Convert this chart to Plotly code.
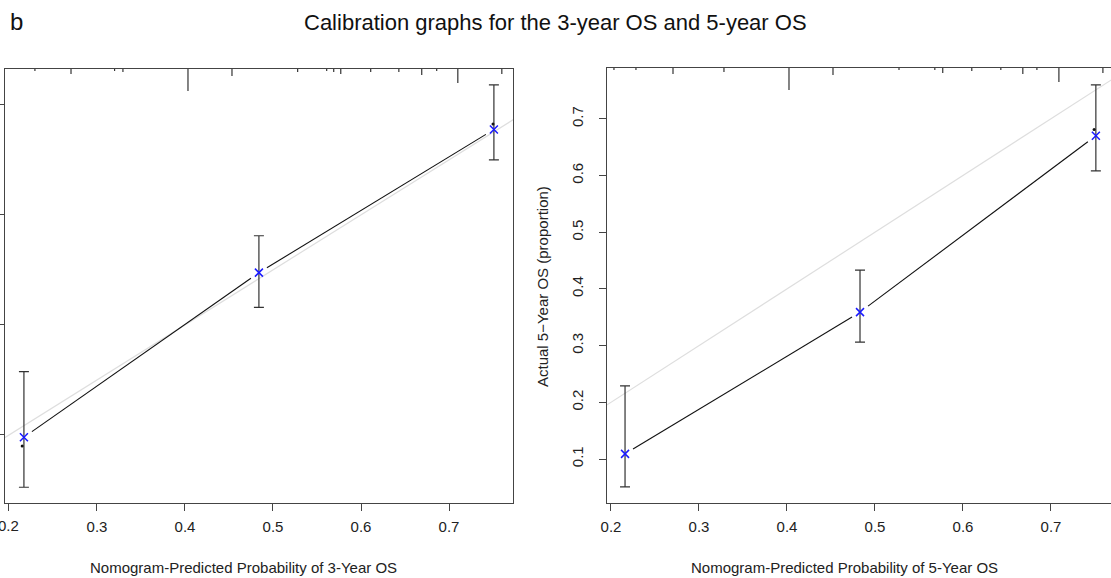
import plotly.graph_objects as go

# ---------------- data ----------------
pred3 = [0.217, 0.484, 0.751]
obs3 = [0.196, 0.495, 0.755]
obs3_hi = [0.315, 0.562, 0.836]
obs3_lo = [0.105, 0.432, 0.700]
app3_x = [0.215, 0.750]
app3_y = [0.180, 0.765]

pred5 = [0.216, 0.483, 0.751]
obs5 = [0.109, 0.359, 0.670]
obs5_hi = [0.229, 0.433, 0.760]
obs5_lo = [0.051, 0.306, 0.608]
app5_x = [0.749]
app5_y = [0.681]

rug3_x = [0.2295, 0.2705, 0.320, 0.3295, 0.4034, 0.4534, 0.528, 0.561, 0.569, 0.577,
          0.611, 0.643, 0.669, 0.686, 0.710, 0.760]
rug3_freq = [1, 2.5, 1, 1.5, 11, 3.5, 1.5, 1, 1.5, 2.5, 1.5, 1.5, 3, 1, 7, 2.5]
rug5_x = [0.2034, 0.2284, 0.2705, 0.3284, 0.4023, 0.4523, 0.5273, 0.568, 0.577, 0.610,
          0.643, 0.668, 0.684, 0.709, 0.759]
rug5_freq = [1, 1, 3, 2, 11, 3.5, 1, 1, 2.5, 1.5, 1, 3, 1, 7, 2.5]

x_ticks = [0.2, 0.3, 0.4, 0.5, 0.6, 0.7]
y3_ticks = [0.2, 0.4, 0.6, 0.8]
y5_ticks = [0.1, 0.2, 0.3, 0.4, 0.5, 0.6, 0.7]

title = "Calibration graphs for the 3-year OS and 5-year OS"
panel_label = "b"
xlab3 = "Nomogram-Predicted Probability of 3-Year OS"
xlab5 = "Nomogram-Predicted Probability of 5-Year OS"
ylab5 = "Actual 5\u2212Year OS (proportion)"

# ---------------- layout constants ----------------
W, H = 1111, 578
FONT = "Liberation Sans, Arial, sans-serif"
AX = "#444444"
GAP = 0.034
RUG_PX = 2.0

fig = go.Figure()


def gapped_segments(xs, ys, f):
    sx, sy = [], []
    for i in range(len(xs) - 1):
        dx, dy = xs[i + 1] - xs[i], ys[i + 1] - ys[i]
        sx += [xs[i] + f * dx, xs[i + 1] - f * dx, None]
        sy += [ys[i] + f * dy, ys[i + 1] - f * dy, None]
    return sx, sy


def add_panel(xa, ya, pred, obs, hi, lo, ax_, ay_):
    fig.add_trace(go.Scatter(x=[0, 1], y=[0, 1], mode="lines",
                             line=dict(color="#dedede", width=1.2),
                             xaxis=xa, yaxis=ya, hoverinfo="skip"))
    sx, sy = gapped_segments(pred, obs, GAP)
    fig.add_trace(go.Scatter(x=sx, y=sy, mode="lines",
                             line=dict(color="#111111", width=1.1),
                             xaxis=xa, yaxis=ya, connectgaps=False))
    fig.add_trace(go.Scatter(
        x=pred, y=obs, mode="markers", marker=dict(size=0.1, color="rgba(0,0,0,0)"),
        error_y=dict(type="data", symmetric=False,
                     array=[h - o for h, o in zip(hi, obs)],
                     arrayminus=[o - l for o, l in zip(obs, lo)],
                     color="#333333", thickness=1.2, width=5),
        xaxis=xa, yaxis=ya))
    fig.add_trace(go.Scatter(x=ax_, y=ay_, mode="markers",
                             marker=dict(size=3, color="#111111"),
                             xaxis=xa, yaxis=ya))
    fig.add_trace(go.Scatter(x=pred, y=obs, mode="markers",
                             marker=dict(symbol="x-thin", size=8,
                                         line=dict(color="#1a1aff", width=1.5)),
                             xaxis=xa, yaxis=ya))


add_panel("x", "y", pred3, obs3, obs3_hi, obs3_lo, app3_x, app3_y)
add_panel("x2", "y2", pred5, obs5, obs5_hi, obs5_lo, app5_x, app5_y)

for xv, fq in zip(rug3_x, rug3_freq):
    fig.add_shape(type="line", xref="x", yref="y domain", x0=xv, x1=xv,
                  y0=1, y1=1 - fq * RUG_PX / (503 - 69), line=dict(color="#333333", width=1.2))
for xv, fq in zip(rug5_x, rug5_freq):
    fig.add_shape(type="line", xref="x2", yref="y2 domain", x0=xv, x1=xv,
                  y0=1, y1=1 - fq * RUG_PX / (503 - 68), line=dict(color="#333333", width=1.2))

axis_common = dict(showgrid=False, zeroline=False, showline=True, linecolor=AX,
                   linewidth=1, ticks="outside", ticklen=7, tickcolor=AX, automargin=False,
                   tickfont=dict(family=FONT, size=15, color="#222222"))

fig.update_layout(
    width=W, height=H, margin=dict(l=0, r=0, t=0, b=0, autoexpand=False),
    plot_bgcolor="white", paper_bgcolor="white", showlegend=False,
    font=dict(family=FONT, color="#222222"),
    xaxis=dict(domain=[5 / W, 513 / W], range=[0.1955, 0.7727], tickvals=x_ticks,
               ticktext=[str(v) for v in x_ticks], mirror=True, anchor="y",
               ticklabelstandoff=3, **axis_common),
    yaxis=dict(domain=[(H - 503) / H, (H - 69) / H], range=[0.0764, 0.865],
               tickvals=y3_ticks, ticktext=["" for _ in y3_ticks], mirror=True,
               anchor="x", **axis_common),
    xaxis2=dict(domain=[607 / W, 1.0], range=[0.1955, 0.7682], tickvals=x_ticks,
                ticktext=[str(v) for v in x_ticks], mirror=True, anchor="y2",
                ticklabelstandoff=3, **axis_common),
    yaxis2=dict(domain=[(H - 503) / H, (H - 68) / H], range=[0.0224, 0.7896],
                tickvals=y5_ticks, ticktext=[str(v) for v in y5_ticks], tickangle=-90,
                mirror=False, anchor="x2", ticklabelstandoff=10, **axis_common),
)

# first tick label of the left panel, partially cut by the page edge (plotly hides it)
fig.add_annotation(text=str(x_ticks[0]), x=x_ticks[0], xref="x", y=1 - 525 / H, yref="paper",
                   showarrow=False, font=dict(family=FONT, size=15, color="#222222"),
                   xanchor="center", yanchor="middle")

fig.add_annotation(text=title, x=555 / W, y=1 - 22 / H, xref="paper", yref="paper",
                   showarrow=False, font=dict(family=FONT, size=22, color="#111111"),
                   xanchor="center", yanchor="middle")
fig.add_annotation(text=panel_label, x=8 / W, y=1 - 21 / H, xref="paper", yref="paper",
                   showarrow=False, font=dict(family=FONT, size=24, color="#111111"),
                   xanchor="left", yanchor="middle")
fig.add_annotation(text=xlab3, x=243 / W, y=1 - 567 / H, xref="paper", yref="paper",
                   showarrow=False, font=dict(family=FONT, size=15, color="#222222"),
                   xanchor="center", yanchor="middle")
fig.add_annotation(text=xlab5, x=844 / W, y=1 - 567 / H, xref="paper", yref="paper",
                   showarrow=False, font=dict(family=FONT, size=15, color="#222222"),
                   xanchor="center", yanchor="middle")
fig.add_annotation(text=ylab5, x=543 / W, y=1 - 287 / H, xref="paper", yref="paper",
                   showarrow=False, textangle=-90,
                   font=dict(family=FONT, size=15, color="#222222"),
                   xanchor="center", yanchor="middle")

fig.write_html("out.html")
